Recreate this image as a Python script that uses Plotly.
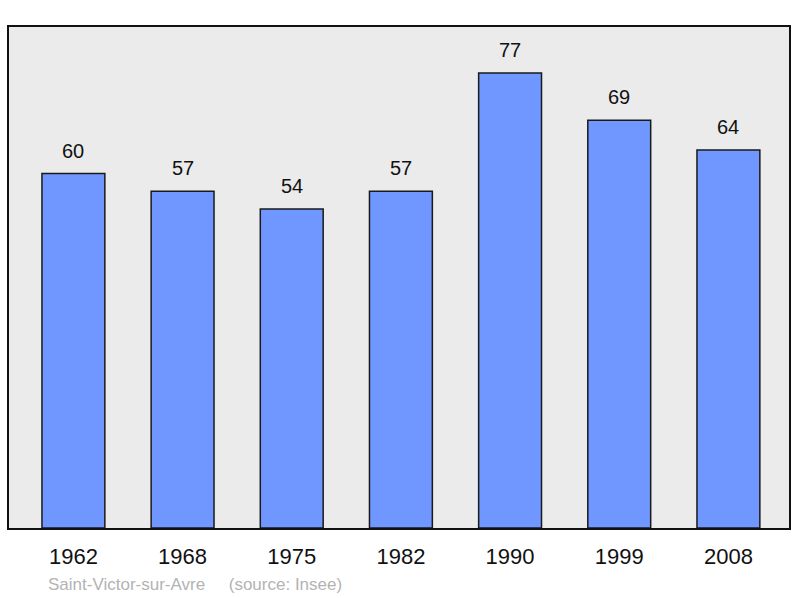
import plotly.graph_objects as go

years = ["1962", "1968", "1975", "1982", "1990", "1999", "2008"]
population = [60, 57, 54, 57, 77, 69, 64]
commune = "Saint-Victor-sur-Avre"
source = "(source: Insee)"

xs = list(range(len(years)))
FONT = "Liberation Sans, Arial, sans-serif"

fig = go.Figure()
fig.add_trace(go.Bar(
    x=xs, y=population, width=0.576,
    marker=dict(color="#7096ff", line=dict(color="#1a1a1a", width=1.5)),
    hoverinfo="skip",
))

for x, v in zip(xs, population):
    fig.add_annotation(x=x, y=v, text=str(v), showarrow=False, yshift=23,
                       font=dict(family=FONT, size=20, color="#111"),
                       xref="x", yref="y")

W, H = 800, 598
ml, mr, mt, mb = 9, 9, 27, 70
pw, ph = W - ml - mr, H - mt - mb

fig.add_annotation(x=(46 - ml) / pw, y=(H - mb - 584) / ph, xref="paper", yref="paper",
                   text=commune + "&nbsp;" * 5 + source, showarrow=False,
                   xanchor="left", yanchor="middle",
                   font=dict(family=FONT, size=17, color="#b3b3b3"))

fig.update_layout(
    width=W, height=H,
    margin=dict(l=ml, r=mr, t=mt, b=mb),
    paper_bgcolor="white", plot_bgcolor="#ebebeb",
    showlegend=False,
    xaxis=dict(range=[-0.59, 6.555], tickmode="array", tickvals=xs, ticktext=years,
               showgrid=False, zeroline=False, showline=True, linecolor="#111",
               linewidth=2, mirror=True, ticks="", ticklabelstandoff=8,
               tickfont=dict(family=FONT, size=22, color="#111")),
    yaxis=dict(range=[0, 84.8], showgrid=False, zeroline=False, showline=True,
               linecolor="#111", linewidth=2, mirror=True, showticklabels=False, ticks=""),
)

fig.write_html("out.html", config={"displayModeBar": False},
               post_script="document.body.style.margin='0';document.body.style.overflow='hidden';")
